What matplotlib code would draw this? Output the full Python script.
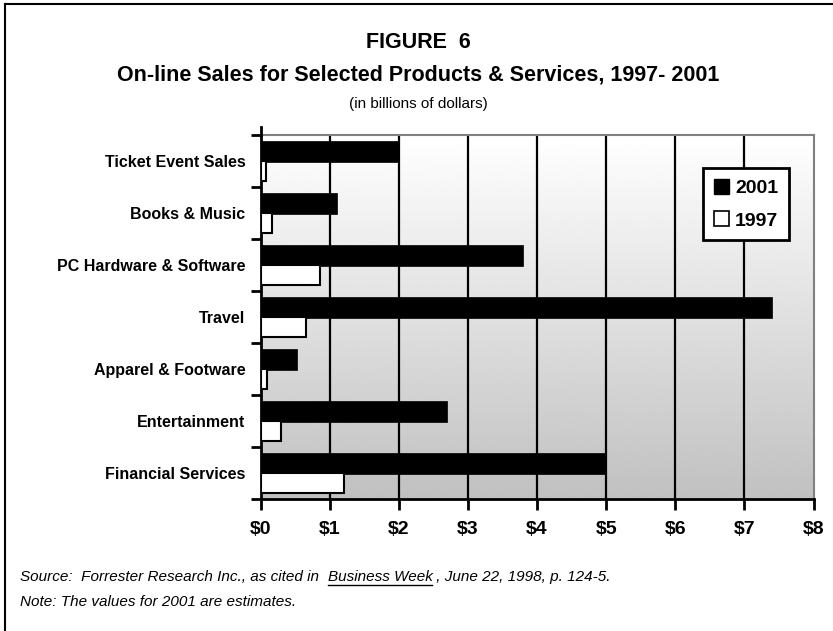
import numpy as np
import matplotlib
matplotlib.use("Agg")
import matplotlib.pyplot as plt
from matplotlib import font_manager
from matplotlib.patches import Patch
from matplotlib.lines import Line2D

categories = ["Ticket Event Sales", "Books & Music", "PC Hardware & Software",
              "Travel", "Apparel & Footware", "Entertainment", "Financial Services"]
sales_2001 = [2.0, 1.1, 3.8, 7.4, 0.52, 2.7, 5.0]
sales_1997 = [0.08, 0.16, 0.86, 0.66, 0.09, 0.29, 1.2]
xticks = [0, 1, 2, 3, 4, 5, 6, 7, 8]
xtick_labels = ["$0", "$1", "$2", "$3", "$4", "$5", "$6", "$7", "$8"]

names = {f.name for f in font_manager.fontManager.ttflist}
FONT = "Liberation Sans Narrow" if "Liberation Sans Narrow" in names else "Liberation Sans"
narrow = FONT == "Liberation Sans Narrow"
plt.rcParams["font.family"] = [FONT, "DejaVu Sans"]

W, H = 833, 631
fig = plt.figure(figsize=(W / 100, H / 100), dpi=100)
fig.patch.set_facecolor("white")

left, right, top, bottom = 260.7, 813.5, 135, 499
ax = fig.add_axes([left / W, 1 - bottom / H, (right - left) / W, (bottom - top) / H])

n = len(categories)
y = np.arange(n)

# gradient background
grad = np.linspace(1.0, 0.755, 256).reshape(-1, 1)
ax.imshow(grad, cmap="gray", vmin=0, vmax=1, extent=[0, 8, n - 0.5, -0.5],
          aspect="auto", zorder=0, interpolation="bilinear")

for xv in xticks[1:-1]:
    ax.axvline(xv, color="black", lw=1.6, zorder=1)

ax.barh(y - 0.19, sales_2001, height=0.40, color="black", edgecolor="black",
        lw=0.5, zorder=3, label="2001")
ax.barh(y + 0.19, sales_1997, height=0.37, color="white", edgecolor="black",
        lw=1.5, zorder=3, label="1997")

ax.set_xlim(0, 8)
ax.set_ylim(n - 0.5, -0.5)

ax.set_xticks(xticks)
ax.set_xticklabels(xtick_labels, fontsize=14, fontweight="bold")
ax.tick_params(axis="x", direction="out", length=8, width=2, pad=8)

ax.set_yticks(np.arange(-0.5, n, 1.0))
ax.set_yticklabels([])
ax.tick_params(axis="y", which="major", direction="out", length=7, width=2)
ax.set_yticks(y, minor=True)
ax.set_yticklabels(categories, minor=True, fontsize=13 if narrow else 11.5, fontweight="bold")
ax.tick_params(axis="y", which="minor", length=0, pad=11)

for s in ["left", "bottom"]:
    ax.spines[s].set_color("black")
    ax.spines[s].set_linewidth(2)
for s in ["top", "right"]:
    ax.spines[s].set_color("#808080")
    ax.spines[s].set_linewidth(1.5)

# small extension of the left axis line above the plot
fig.add_artist(Line2D([left / W, left / W], [1 - top / H, 1 - 127 / H],
                      transform=fig.transFigure, color="black", lw=2))

handles = [Patch(facecolor="black", edgecolor="black", label="2001"),
           Patch(facecolor="white", edgecolor="black", lw=1.2, label="1997")]
leg = ax.legend(handles=handles, loc="upper right",
                bbox_to_anchor=((789 - left) / (right - left), (bottom - 168) / (bottom - top)),
                borderaxespad=0, fancybox=False, framealpha=1, edgecolor="black",
                prop={"family": [FONT], "weight": "bold", "size": 14},
                handlelength=0.8, handleheight=0.8, handletextpad=0.3,
                labelspacing=0.75, borderpad=0.55)
leg.get_frame().set_linewidth(2)
leg.set_zorder(5)

# figure border
fig.add_artist(Line2D([5 / W, 5 / W], [0, 1 - 4 / H], transform=fig.transFigure, color="black", lw=1.5))
fig.add_artist(Line2D([5 / W, 1], [1 - 4 / H, 1 - 4 / H], transform=fig.transFigure, color="black", lw=1.5))

# titles
cx = 418 / W
fig.text(cx, 1 - 43 / H, "FIGURE  6", ha="center", va="center", fontsize=15.5, fontweight="bold")
fig.text(cx, 1 - 75 / H, "On-line Sales for Selected Products & Services, 1997- 2001",
         ha="center", va="center", fontsize=15.5, fontweight="bold")
fig.text(cx, 1 - 104 / H, "(in billions of dollars)", ha="center", va="center", fontsize=11)

# footnotes
fig.canvas.draw()
renderer = fig.canvas.get_renderer()
parts = [("Source:  Forrester Research Inc., as cited in  ", False),
         ("Business Week", True),
         (" , June 22, 1998, p. 124-5.", False)]
xpix = 20
ypix = 577
for txt, ul in parts:
    t = fig.text(xpix / W, 1 - ypix / H, txt, ha="left", va="center", fontsize=11, style="italic")
    bb = t.get_window_extent(renderer)
    if ul:
        yl = bb.y0 - 1
        fig.add_artist(Line2D([bb.x0 / W, bb.x1 / W], [yl / H, yl / H],
                              transform=fig.transFigure, color="black", lw=1))
    xpix = bb.x1
fig.text(20 / W, 1 - 602 / H, "Note: The values for 2001 are estimates.", ha="left",
         va="center", fontsize=11, style="italic")

fig.savefig("out.png", dpi=100)
